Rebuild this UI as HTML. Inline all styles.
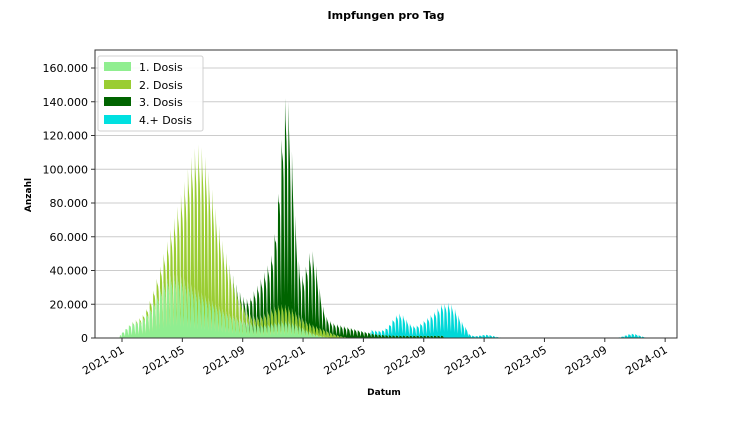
<!DOCTYPE html>
<html><head><meta charset="utf-8">
<style>
body{margin:0;background:#fff;}
svg text{font-family:"DejaVu Sans","Liberation Sans",sans-serif;}
</style></head><body>
<svg id="s" width="750" height="424" xmlns="http://www.w3.org/2000/svg">
<rect width="750" height="424" fill="#fff"/>
<text x="386" y="19" font-size="11" font-weight="bold" text-anchor="middle">Impfungen pro Tag</text>
<g id="grid"></g>
<g id="areas"></g>
<rect x="95" y="50" width="582" height="288" fill="none" stroke="#333" stroke-width="1"/>
<g id="ticks" font-size="11"></g>
<text x="384" y="395" font-size="9" font-weight="bold" text-anchor="middle">Datum</text>
<text transform="translate(31,195) rotate(-90)" font-size="9" font-weight="bold" text-anchor="middle">Anzahl</text>
<g>
<rect x="98" y="56" width="105" height="75" fill="#fff" stroke="#ccc" rx="2" opacity="0.9"/>
<rect x="104" y="62" width="27" height="9" fill="#90ee90"/>
<rect x="104" y="80" width="27" height="9" fill="#9acd32"/>
<rect x="104" y="97" width="27" height="9" fill="#006400"/>
<rect x="104" y="115" width="27" height="9" fill="#00e0e0"/>
<text x="139" y="71" font-size="11">1. Dosis</text>
<text x="139" y="89" font-size="11">2. Dosis</text>
<text x="139" y="106" font-size="11">3. Dosis</text>
<text x="139" y="124" font-size="11">4.+ Dosis</text>
</g>
</svg>
<script>
const NS="http://www.w3.org/2000/svg";
const y0=338, k=270/160000;
const g=document.getElementById('grid'), tk=document.getElementById('ticks');
function el(t,a,p,txt){const e=document.createElementNS(NS,t);for(const i in a)e.setAttribute(i,a[i]);if(txt)e.textContent=txt;p.appendChild(e);return e;}
for(let v=0;v<=160000;v+=20000){const y=y0-v*k;
 if(v>0)el('line',{x1:95,x2:677,y1:y,y2:y,stroke:'#ccc','stroke-width':1},g);
 el('line',{x1:91,x2:95,y1:y,y2:y,stroke:'#333'},tk);
 el('text',{x:88,y:y+4,'text-anchor':'end'},tk,v==0?'0':(v/1000)+'.000');}
const labs=['2021-01','2021-05','2021-09','2022-01','2022-05','2022-09','2023-01','2023-05','2023-09','2024-01'];
labs.forEach((l,i)=>{const x=122+i*60.35;
 el('line',{x1:x,x2:x,y1:338,y2:342,stroke:'#333'},tk);
 el('text',{x:x+3,y:352,'text-anchor':'end',transform:`rotate(-30 ${x+3} 352)`},tk,l);});
function G(t,m,s,a){return a*Math.exp(-0.5*((t-m)/s)**2);}
const wf=[1,0.9,0.85,0.8,0.7,0.4,0.18];
const d=[[],[],[],[]];
const T0=-5,T1=1100;
for(let t=T0;t<=T1;t++){
 const w=wf[((t%7)+7)%7];
 const on=t>=-4?1:0;
 let a=(G(t,95,35,30000)+G(t,165,45,22000)+G(t,330,35,10000)+G(t,20,15,6000)+G(t,250,30,6000))*on;
 let b=(G(t,160,28,80000)+G(t,110,30,22000)+G(t,215,22,18000)+G(t,320,35,10000)+G(t,400,25,4000))*(t>10?1:0);
 let c=G(t,333,13,110000)+G(t,300,30,25000)+G(t,383,13,40000)+G(t,440,40,5000)+(t>260&&t<650?1500:0);
 let e=G(t,560,15,11000)+G(t,620,20,7000)+G(t,660,20,18000)+G(t,735,15,2000)+G(t,1030,14,2600)+(t>500&&t<700?2000:0);
 d[0].push(a*w);d[1].push(b*w);d[2].push(c*w);d[3].push(e*w);}
const cols=['#90ee90','#9acd32','#006400','#00d8d8'];
const ar=document.getElementById('areas');
let base=d[0].map(()=>0);
for(let s=0;s<4;s++){
 const top=base.map((v,i)=>v+d[s][i]);
 let p='';
 for(let i=0;i<top.length;i++){const x=122+(i+T0)*0.4955;p+=(i?'L':'M')+x.toFixed(2)+' '+(y0-top[i]*k).toFixed(2);}
 for(let i=top.length-1;i>=0;i--){const x=122+(i+T0)*0.4955;p+='L'+x.toFixed(2)+' '+(y0-base[i]*k).toFixed(2);}
 el('path',{d:p+'Z',fill:cols[s]},ar);
 base=top;}
</script>
</body></html>
